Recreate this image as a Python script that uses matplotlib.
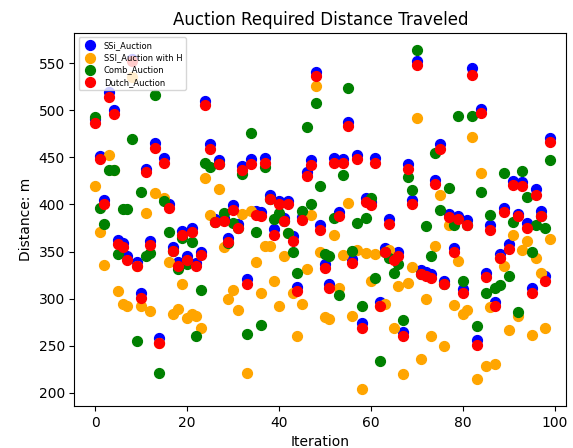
import matplotlib
matplotlib.use("Agg")
import matplotlib.pyplot as plt

iterations = list(range(100))

# distance travelled per iteration for each auction scheme
ssi_auction = [
    491, 452, 405, 520, 500, 362, 359, 345, 555, 339,
    306, 438, 361, 465, 258, 449, 401, 355, 339, 372,
    345, 375, 338, 350, 510, 464, 385, 447, 386, 364,
    399, 379, 441, 321, 448, 393, 392, 449, 410, 374,
    404, 386, 404, 367, 312, 387, 435, 447, 541, 378,
    337, 315, 449, 392, 448, 488, 342, 453, 274, 407,
    403, 449, 296, 354, 385, 345, 349, 264, 443, 405,
    552, 330, 328, 326, 426, 464, 319, 390, 354, 388,
    310, 383, 545, 256, 501, 327, 378, 296, 347, 396,
    358, 425, 390, 424, 380, 311, 416, 393, 324, 471,
]
ssi_auction_h = [
    420, 371, 336, 453, 437, 308, 294, 292, 535, 335,
    292, 391, 287, 412, 253, 407, 339, 284, 289, 315,
    279, 284, 282, 269, 428, 389, 381, 416, 355, 300,
    309, 288, 390, 221, 393, 339, 306, 356, 356, 319,
    292, 345, 370, 306, 260, 294, 331, 389, 526, 349,
    280, 278, 368, 311, 346, 402, 282, 352, 204, 348,
    319, 347, 292, 294, 352, 269, 313, 220, 317, 334,
    492, 236, 300, 260, 356, 410, 250, 378, 293, 340,
    284, 288, 472, 215, 433, 228, 291, 230, 343, 335,
    267, 368, 282, 352, 361, 261, 343, 327, 269, 363,
]
comb_auction = [
    493, 396, 379, 437, 437, 347, 395, 395, 470, 255,
    413, 345, 348, 516, 221, 404, 371, 351, 331, 364,
    337, 360, 260, 309, 444, 440, 381, 443, 391, 359,
    380, 375, 432, 262, 476, 371, 272, 440, 406, 385,
    391, 382, 370, 349, 327, 393, 482, 400, 508, 420,
    347, 345, 386, 304, 431, 524, 351, 380, 292, 386,
    407, 322, 234, 350, 343, 327, 337, 277, 429, 415,
    564, 326, 377, 345, 455, 394, 315, 418, 378, 494,
    319, 378, 494, 271, 413, 306, 389, 311, 314, 433,
    324, 381, 286, 436, 408, 350, 378, 388, 375, 447,
]
dutch_auction = [
    487, 448, 401, 514, 496, 358, 355, 341, 552, 335,
    301, 434, 357, 460, 253, 444, 396, 351, 335, 368,
    341, 371, 335, 346, 506, 459, 381, 443, 382, 360,
    394, 375, 437, 316, 443, 389, 388, 444, 406, 368,
    400, 382, 400, 361, 308, 383, 430, 442, 537, 373,
    332, 311, 444, 388, 444, 483, 338, 448, 269, 403,
    399, 444, 292, 350, 379, 341, 345, 260, 438, 400,
    548, 326, 324, 322, 422, 459, 315, 387, 350, 385,
    306, 378, 538, 251, 497, 323, 373, 292, 343, 392,
    353, 421, 388, 420, 375, 306, 410, 388, 319, 466,
]

fig = plt.figure(figsize=(5.73, 4.48), dpi=100)
ax = fig.add_axes([0.13, 0.094, 0.858, 0.832])

ax.scatter(iterations, ssi_auction, s=50, color="blue", label="SSi_Auction")
ax.scatter(iterations, ssi_auction_h, s=50, color="orange", label="SSI_Auction with H")
ax.scatter(iterations, comb_auction, s=50, color="green", label="Comb_Auction")
ax.scatter(iterations, dutch_auction, s=50, color="red", label="Dutch_Auction")

ax.set_xlim(-4.5, 102.5)
ax.set_title("Auction Required Distance Traveled")
ax.set_xlabel("Iteration")
ax.set_ylabel("Distance: m")
ax.legend(loc="upper left", fontsize=6, borderpad=0.4, handletextpad=0.6,
          labelspacing=0.4)

fig.savefig("out.png", dpi=100)
